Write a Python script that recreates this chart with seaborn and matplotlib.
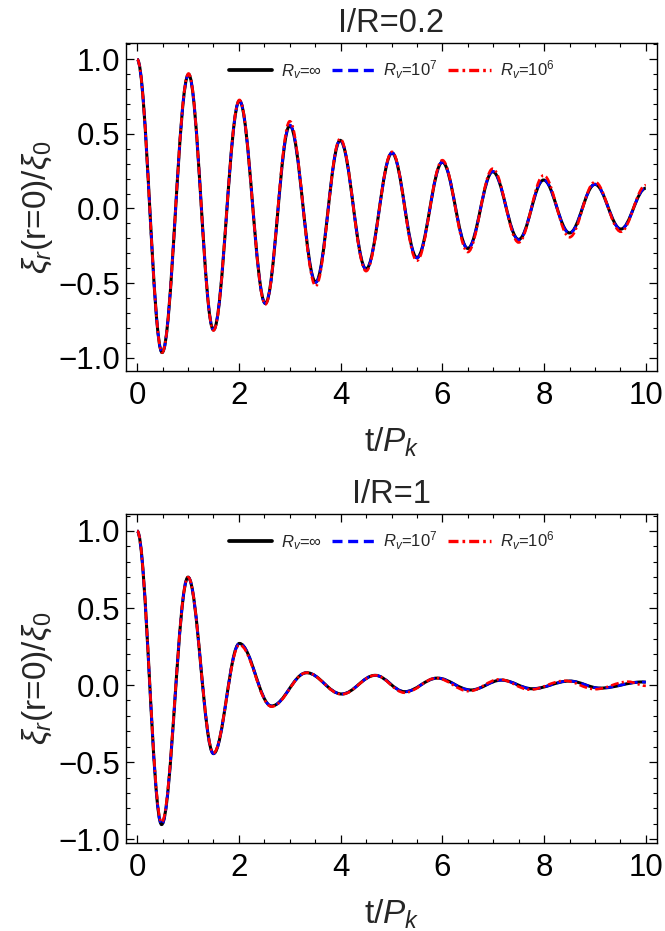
import matplotlib
matplotlib.use("Agg")
import matplotlib.pyplot as plt
import seaborn as sns
from matplotlib.path import Path
from matplotlib.patches import PathPatch
from matplotlib.lines import Line2D
from matplotlib.ticker import MultipleLocator

# ---------------- data (extrema) ----------------
panel_titles = ["I/R=0.2", "I/R=1"]
series_labels = [r"$R_v$=∞", r"$R_v$=10$^7$", r"$R_v$=10$^6$"]

# Panel 1 : I/R = 0.2  (R_v = inf and R_v = 1e7 coincide)
top_t_inf = [0.0, 0.49, 1.01, 1.50, 2.01, 2.52, 3.00, 3.51, 3.99, 4.50, 5.01,
             5.50, 6.00, 6.50, 6.99, 7.50, 7.99, 8.50, 9.00, 9.51, 10.0]
top_v_inf = [1.0, -0.966, 0.900, -0.814, 0.723, -0.637, 0.557, -0.494, 0.457,
             -0.406, 0.373, -0.330, 0.311, -0.268, 0.247, -0.208, 0.191,
             -0.164, 0.162, -0.138, 0.136]
top_t_1e7 = top_t_inf
top_v_1e7 = [1.0, -0.966, 0.900, -0.814, 0.723, -0.637, 0.560, -0.496, 0.458,
             -0.408, 0.374, -0.332, 0.312, -0.270, 0.249, -0.210, 0.193,
             -0.166, 0.163, -0.140, 0.138]
top_t_1e6 = top_t_inf
top_v_1e6 = [1.0, -0.966, 0.905, -0.818, 0.728, -0.643, 0.585, -0.520, 0.468,
             -0.420, 0.380, -0.350, 0.324, -0.292, 0.267, -0.228, 0.222,
             -0.193, 0.178, -0.156, 0.156]

# Panel 2 : I/R = 1
bot_t_inf = [0.0, 0.48, 1.00, 1.50, 2.01, 2.64, 3.33, 4.02, 4.68, 5.26, 5.90,
             6.56, 7.16, 7.77, 8.50, 9.10, 9.93, 10.0]
bot_v_inf = [1.0, -0.905, 0.700, -0.445, 0.270, -0.136, 0.080, -0.058, 0.063,
             -0.043, 0.045, -0.032, 0.032, -0.024, 0.026, -0.020, 0.020, 0.019]
bot_t_1e7 = bot_t_inf
bot_v_1e7 = [1.0, -0.905, 0.700, -0.445, 0.270, -0.136, 0.080, -0.058, 0.063,
             -0.043, 0.045, -0.032, 0.032, -0.024, 0.026, -0.020, 0.020, 0.019]
bot_t_1e6 = [0.0, 0.48, 1.00, 1.50, 2.01, 2.64, 3.33, 4.02, 4.68, 5.26, 5.88,
             6.52, 7.12, 7.72, 8.40, 9.00, 9.65, 10.0]
bot_v_1e6 = [1.0, -0.890, 0.700, -0.440, 0.260, -0.140, 0.080, -0.060, 0.063,
             -0.050, 0.045, -0.040, 0.037, -0.030, 0.028, -0.027, 0.022, -0.005]

x_ticks = [0, 2, 4, 6, 8, 10]
y_ticks = [-1.0, -0.5, 0.0, 0.5, 1.0]

# ---------------- style ----------------
sns.set_style("ticks")
plt.rcParams["font.family"] = ["Liberation Sans", "DejaVu Sans"]
plt.rcParams["mathtext.fontset"] = "custom"
plt.rcParams["mathtext.rm"] = "Liberation Sans"
plt.rcParams["mathtext.it"] = "Liberation Sans:italic"
plt.rcParams["mathtext.bf"] = "Liberation Sans:bold"

colors = ["black", "#0000ff", "#ff0000"]
styles = ["-", (0, (3.0, 1.7)), (0, (3.0, 1.2, 0.8, 1.2))]
widths = [2.2, 1.9, 1.9]


def smooth_path(t, v):
    """Smooth curve through extrema (horizontal tangents at each extremum)."""
    k = 0.3634
    verts = [(t[0], v[0])]
    codes = [Path.MOVETO]
    for i in range(len(t) - 1):
        dt = t[i + 1] - t[i]
        verts += [(t[i] + k * dt, v[i]), (t[i + 1] - k * dt, v[i + 1]),
                  (t[i + 1], v[i + 1])]
        codes += [Path.CURVE4] * 3
    return Path(verts, codes)


fig = plt.figure(figsize=(6.65, 9.31), dpi=100)
W, H = 665.0, 931.0
ax_left, ax_right = 126, 657
boxes = [(43, 371), (514, 843)]
ylims = [(-1.09, 1.11), (-1.025, 1.11)]

panels = [
    [(top_t_inf, top_v_inf), (top_t_1e7, top_v_1e7), (top_t_1e6, top_v_1e6)],
    [(bot_t_inf, bot_v_inf), (bot_t_1e7, bot_v_1e7), (bot_t_1e6, bot_v_1e6)],
]

for p, (ytop, ybot) in enumerate(boxes):
    ax = fig.add_axes([ax_left / W, 1 - ybot / H, (ax_right - ax_left) / W,
                       (ybot - ytop) / H])
    for s, (tt, vv) in enumerate(panels[p]):
        patch = PathPatch(smooth_path(tt, vv), fill=False, edgecolor=colors[s],
                          lw=widths[s], linestyle=styles[s], capstyle="butt",
                          zorder=2 + s)
        ax.add_patch(patch)
    ax.set_xlim(-0.22, 10.22)
    ax.set_ylim(*ylims[p])
    ax.set_xticks(x_ticks)
    ax.set_yticks(y_ticks)
    ax.set_xticklabels([str(x) for x in x_ticks])
    ax.set_yticklabels(["−1.0", "−0.5", "0.0", "0.5", "1.0"])
    ax.xaxis.set_minor_locator(MultipleLocator(0.5))
    ax.yaxis.set_minor_locator(MultipleLocator(0.1))
    ax.tick_params(which="both", direction="in", top=True, right=True,
                   colors="black", labelsize=22.5)
    ax.tick_params(which="major", length=6, width=0.9)
    ax.tick_params(which="minor", length=3.2, width=0.8)
    ax.tick_params(axis="x", which="major", pad=7)
    ax.tick_params(axis="y", which="major", pad=4)
    for sp in ax.spines.values():
        sp.set_visible(True)
        sp.set_linewidth(1.0)
        sp.set_color("black")
    ax.set_title(panel_titles[p], fontsize=23.5, pad=8)
    ax.set_xlabel(r"t/$P_k$", fontsize=24, labelpad=11)
    ax.set_ylabel(r"$\xi_r$(r=0)/$\xi_0$", fontsize=24, labelpad=3)
    ax.grid(False)
    handles = [Line2D([0], [0], color=colors[s], lw=widths[s] + 0.5,
                      linestyle=styles[s]) for s in range(3)]
    ax.legend(handles, series_labels, loc="center",
              bbox_to_anchor=(0.5, 0.918), ncol=3, frameon=False,
              fontsize=12, handlelength=2.6, handletextpad=0.5,
              columnspacing=0.6)

fig.savefig("out.png", dpi=100)
